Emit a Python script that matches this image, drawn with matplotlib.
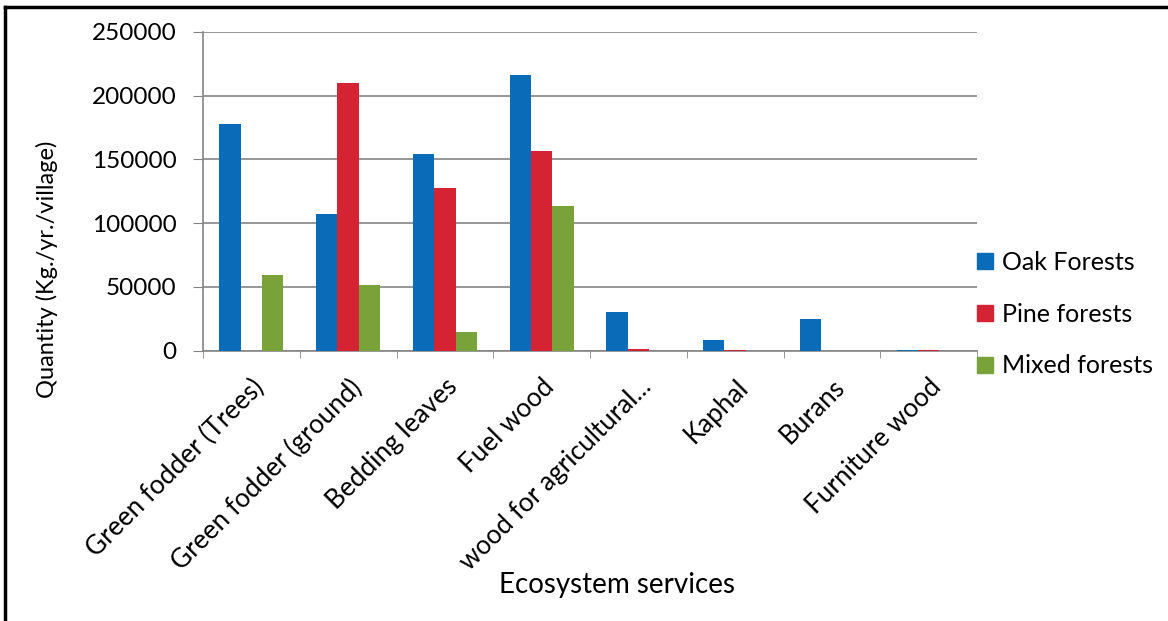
import matplotlib
matplotlib.use("Agg")
import matplotlib.pyplot as plt
import numpy as np
from matplotlib.lines import Line2D

categories = ["Green fodder (Trees)", "Green fodder (ground)", "Bedding leaves",
              "Fuel wood", "wood for agricultural...", "Kaphal", "Burans", "Furniture wood"]
series_names = ["Oak Forests", "Pine forests", "Mixed forests"]
oak = [178000, 107000, 154000, 216000, 30500, 8600, 25000, 500]
pine = [0, 210000, 127700, 156700, 1200, 600, 0, 700]
mixed = [59300, 51500, 14400, 113400, 0, 0, 0, 0]
colors = ["#0A6BB8", "#D42332", "#79A33A"]
yticks = [0, 50000, 100000, 150000, 200000, 250000]

plt.rcParams['font.family'] = ['Lato', 'DejaVu Sans']

fig = plt.figure(figsize=(11.68, 6.21), dpi=100)
L, R, T, B = 203, 977, 31.7, 350.7
ax = fig.add_axes([L/1168, 1-B/621, (R-L)/1168, (B-T)/621])

x = np.arange(len(categories))
w = 0.22
for i, (vals, name) in enumerate(zip([oak, pine, mixed], series_names)):
    ax.bar(x + (i-1)*w, vals, width=w, color=colors[i], label=name, zorder=3)

ax.set_xlim(-0.5, len(categories)-0.5)
ax.set_ylim(0, 250000)
ax.set_yticks(yticks)
ax.set_yticklabels([str(v) for v in yticks], fontsize=17.5)
ax.yaxis.grid(True, color="#858585", linewidth=1.2, zorder=0)
ax.set_axisbelow(True)

ax.set_xticks(x)
ax.set_xticklabels(categories, rotation=45, ha='right', va='top',
                   rotation_mode='anchor', fontsize=18.8)
ax.tick_params(axis='x', length=0, pad=17)
ax.set_xticks(np.arange(-0.5, len(categories)), minor=True)
ax.tick_params(axis='x', which='minor', length=5, color="#858585", direction='out')
ax.tick_params(axis='y', length=7, color="#858585", pad=12)

for s in ['top', 'right']:
    ax.spines[s].set_visible(False)
for s in ['left', 'bottom']:
    ax.spines[s].set_color("#858585")
    ax.spines[s].set_linewidth(1.2)

fig.text(47/1168, 1-269/621, "Quantity (Kg./yr./village)", rotation=90,
         ha='center', va='center', fontsize=17)
fig.text(617/1168, 1-585/621, "Ecosystem services", ha='center', va='center', fontsize=20)

handles = [Line2D([], [], marker='s', linestyle='none', markersize=11,
                  markerfacecolor=c, markeredgecolor=c) for c in colors]
fig.legend(handles, series_names, loc='center left', bbox_to_anchor=(950/1168, 1-314/621),
           frameon=False, fontsize=18, labelspacing=1.15, handletextpad=0.2, handlelength=1.0)

# partial frame (top and left)
fig.add_artist(Line2D([5/1168, 1.0], [1-7/621, 1-7/621], color='black', linewidth=2.5,
                      transform=fig.transFigure))
fig.add_artist(Line2D([5/1168, 5/1168], [0, 1-7/621], color='black', linewidth=2.5,
                      transform=fig.transFigure))

fig.savefig("out.png", dpi=100, facecolor='white')
